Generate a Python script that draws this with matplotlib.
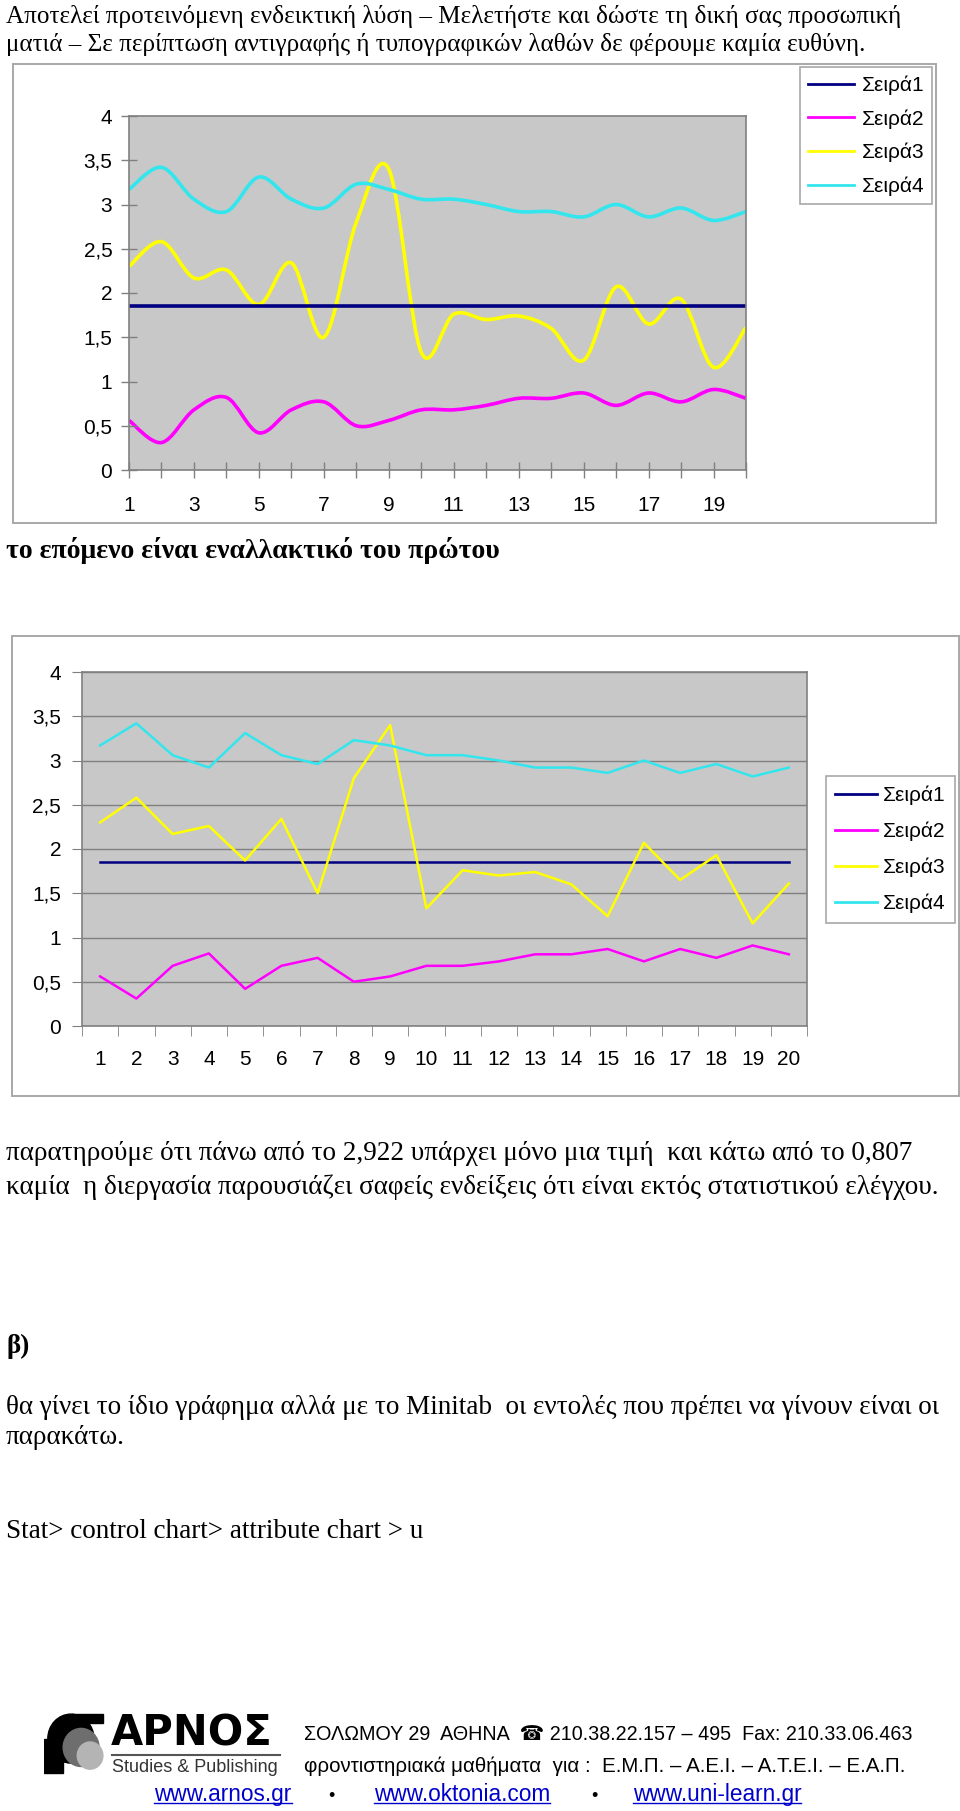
import numpy as np
import matplotlib
matplotlib.use("Agg")
from matplotlib import pyplot as plt
from matplotlib.path import Path
from matplotlib.patches import PathPatch, Rectangle, Circle
from matplotlib.lines import Line2D

# data
samples = list(range(1, 21))
seira1 = [1.856, 1.856, 1.856, 1.856, 1.856, 1.856, 1.856, 1.856, 1.856, 1.856,
          1.856, 1.856, 1.856, 1.856, 1.856, 1.856, 1.856, 1.856, 1.856, 1.856]
seira2 = [0.56, 0.31, 0.68, 0.82, 0.42, 0.68, 0.77, 0.50, 0.56, 0.68,
          0.68, 0.73, 0.81, 0.81, 0.87, 0.73, 0.87, 0.77, 0.91, 0.81]
seira3 = [2.30, 2.58, 2.17, 2.26, 1.87, 2.34, 1.50, 2.80, 3.40, 1.33,
          1.76, 1.70, 1.74, 1.60, 1.24, 2.07, 1.65, 1.93, 1.16, 1.61]
seira4 = [3.17, 3.42, 3.06, 2.92, 3.31, 3.06, 2.96, 3.23, 3.17, 3.06,
          3.06, 3.00, 2.92, 2.92, 2.86, 3.00, 2.86, 2.96, 2.82, 2.92]
series_names = ["Σειρά1", "Σειρά2", "Σειρά3", "Σειρά4"]
series_colors = ["#000080", "#FF00FF", "#FFFF00", "#33E6EE"]
y_ticks = [0, 0.5, 1, 1.5, 2, 2.5, 3, 3.5, 4]
y_ticklabels = ["0", "0,5", "1", "1,5", "2", "2,5", "3", "3,5", "4"]

W, H = 960, 1811
fig = plt.figure(figsize=(W / 100, H / 100), dpi=100)
fig.patch.set_facecolor("white")


def rect(l, t, r, b):
    return [l / W, 1 - b / H, (r - l) / W, (b - t) / H]


def frame(l, t, r, b):
    fig.add_artist(Rectangle((l / W, 1 - b / H), (r - l) / W, (b - t) / H,
                             transform=fig.transFigure, fill=False,
                             ec="#A8A8A8", lw=1.4))


def smooth_path(xs, ys):
    # excel style smoothed line (bezier through the points)
    p = np.column_stack([xs, ys]).astype(float)
    ext = np.vstack([p[0], p, p[-1]])
    verts = [p[0]]
    codes = [Path.MOVETO]
    for i in range(len(p) - 1):
        p0, p1, p2, p3 = ext[i], ext[i + 1], ext[i + 2], ext[i + 3]
        verts += [p1 + (p2 - p0) / 6, p2 - (p3 - p1) / 6, p2]
        codes += [Path.CURVE4] * 3
    return Path(verts, codes)


serif = "Liberation Serif"
sans = "Liberation Sans"
fs = 15

fig.text(6 / W, 1 - 16 / H,
         "Αποτελεί προτεινόμενη ενδεικτική λύση – Μελετήστε και δώστε τη δική σας προσωπική",
         fontsize=18.1, family=serif, va="center")
fig.text(6 / W, 1 - 45 / H,
         "ματιά – Σε περίπτωση αντιγραφής ή τυπογραφικών λαθών δε φέρουμε καμία ευθύνη.",
         fontsize=18.1, family=serif, va="center")

# chart 1, smoothed lines
frame(13, 64, 936, 523)
ax1 = fig.add_axes(rect(129, 116, 746, 470))
ax1.set_facecolor("#C8C8C8")
ax1.plot(samples, seira1, color=series_colors[0], lw=2.6)
for ys, c in zip([seira2, seira3, seira4], series_colors[1:]):
    ax1.add_patch(PathPatch(smooth_path(samples, ys), fill=False, ec=c, lw=2.6))
ax1.set_xlim(1, 20)
ax1.set_ylim(0, 4)
ax1.set_yticks(y_ticks)
ax1.set_yticklabels(y_ticklabels, family=sans, fontsize=fs)
ax1.set_xticks(samples)
ax1.set_xticklabels([str(s) if s % 2 else "" for s in samples], family=sans, fontsize=fs)
ax1.tick_params(direction="inout", length=12, color="#808080", width=1)
ax1.tick_params(axis="y", pad=6)
ax1.tick_params(axis="x", pad=13)
for sp in ax1.spines.values():
    sp.set_color("#808080")
    sp.set_linewidth(1.2)

handles = [Line2D([], [], color=c, lw=2) for c in series_colors]
leg1 = ax1.legend(handles, series_names, loc="upper left",
                  bbox_to_anchor=(800 / W, 1 - 67 / H), bbox_transform=fig.transFigure,
                  prop={"family": sans, "size": fs}, frameon=True, fancybox=False,
                  edgecolor="#A8A8A8", framealpha=1, borderaxespad=0,
                  handlelength=2.2, handletextpad=0.35, labelspacing=0.68, borderpad=0.4)
leg1.get_frame().set_linewidth(1.2)

fig.text(6 / W, 1 - 551 / H, "το επόμενο είναι εναλλακτικό του πρώτου",
         fontsize=20, family=serif, weight="bold", va="center")

# chart 2, straight lines
frame(12, 636, 959, 1096)
ax2 = fig.add_axes(rect(82, 672, 807, 1026))
ax2.set_facecolor("#C8C8C8")
for ys, c in zip([seira1, seira2, seira3, seira4], series_colors):
    ax2.plot(samples, ys, color=c, lw=1.8)
ax2.set_xlim(0.5, 20.5)
ax2.set_ylim(0, 4)
ax2.set_yticks(y_ticks)
ax2.set_yticklabels(y_ticklabels, family=sans, fontsize=fs)
ax2.set_xticks(samples)
ax2.set_xticklabels([str(s) for s in samples], family=sans, fontsize=fs)
ax2.set_xticks(np.arange(0.5, 21, 1), minor=True)
ax2.tick_params(axis="x", which="major", length=0, pad=17)
ax2.tick_params(axis="x", which="minor", length=7, color="#808080")
ax2.tick_params(axis="y", length=7, color="#808080", pad=8)
ax2.grid(axis="y", color="#808080", lw=1)
ax2.set_axisbelow(True)
for sp in ax2.spines.values():
    sp.set_color("#808080")
    sp.set_linewidth(1.2)
leg2 = ax2.legend(handles, series_names, loc="upper left",
                  bbox_to_anchor=(826 / W, 1 - 776 / H), bbox_transform=fig.transFigure,
                  prop={"family": sans, "size": fs}, frameon=True, fancybox=False,
                  edgecolor="#A8A8A8", framealpha=1, borderaxespad=0,
                  handlelength=2.0, handletextpad=0.3, labelspacing=0.8, borderpad=0.45)
leg2.get_frame().set_linewidth(1.2)

# text below
body = [
    (1153, "παρατηρούμε ότι πάνω από το 2,922 υπάρχει μόνο μια τιμή  και κάτω από το 0,807", "normal"),
    (1187, "καμία  η διεργασία παρουσιάζει σαφείς ενδείξεις ότι είναι εκτός στατιστικού ελέγχου.", "normal"),
    (1346, "β)", "bold"),
    (1407, "θα γίνει το ίδιο γράφημα αλλά με το Minitab  οι εντολές που πρέπει να γίνουν είναι οι", "normal"),
    (1437, "παρακάτω.", "normal"),
    (1532, "Stat> control chart> attribute chart > u", "normal"),
]
for y, s, w in body:
    fig.text(6 / W, 1 - y / H, s, fontsize=19.5, family=serif, weight=w, va="center")

# footer logo
axl = fig.add_axes(rect(44, 1708, 108, 1776))
axl.set_xlim(0, 1)
axl.set_ylim(0, 1)
axl.axis("off")
axl.add_patch(Rectangle((0.0, 0.05), 0.3, 0.5, color="black"))
axl.add_patch(Circle((0.42, 0.55), 0.36, color="black"))
axl.add_patch(Rectangle((0.42, 0.78), 0.5, 0.13, color="black"))
axl.add_patch(Circle((0.58, 0.42), 0.28, color="#6E6E6E"))
axl.add_patch(Circle((0.72, 0.3), 0.2, color="#B4B4B4"))
fig.text(111 / W, 1 - 1733 / H, "ΑΡΝΟΣ", fontsize=30, family="DejaVu Sans",
         weight="bold", va="center")
fig.add_artist(Line2D([112 / W, 280 / W], [1 - 1755 / H, 1 - 1755 / H],
                      color="#555555", lw=1.5, transform=fig.transFigure))
fig.text(112 / W, 1 - 1768 / H, "Studies & Publishing", fontsize=13, family=sans,
         va="center", color="#333333")

foot = ["Liberation Sans", "DejaVu Sans"]
fig.text(304 / W, 1 - 1735 / H,
         "ΣΟΛΩΜΟΥ 29  ΑΘΗΝΑ  ☎ 210.38.22.157 – 495  Fax: 210.33.06.463",
         fontsize=14.2, family=foot, va="center")
fig.text(304 / W, 1 - 1766 / H,
         "φροντιστηριακά μαθήματα  για :  Ε.Μ.Π. – Α.Ε.Ι. – Α.Τ.Ε.Ι. – Ε.Α.Π.",
         fontsize=14.8, family=foot, va="center")
links = []
for x, s in [(223, "www.arnos.gr"), (462, "www.oktonia.com"), (717, "www.uni-learn.gr")]:
    links.append(fig.text(x / W, 1 - 1801 / H, s, fontsize=16.3, family=foot,
                          color="#0000CC", ha="center", va="baseline"))
for x in [331, 594]:
    fig.text(x / W, 1 - 1801 / H, "•", fontsize=13, family=foot, ha="center", va="baseline")

fig.canvas.draw()
r = fig.canvas.get_renderer()
inv = fig.transFigure.inverted()
for t in links:
    bb = t.get_window_extent(r)
    ybase = t.get_transform().transform(t.get_position())[1]
    (x0, y0), (x1, _) = inv.transform([(bb.x0, ybase - 2), (bb.x1, ybase - 2)])
    fig.add_artist(Line2D([x0, x1], [y0, y0], color="#0000CC", lw=1,
                          transform=fig.transFigure))

fig.savefig("out.png", dpi=100)
